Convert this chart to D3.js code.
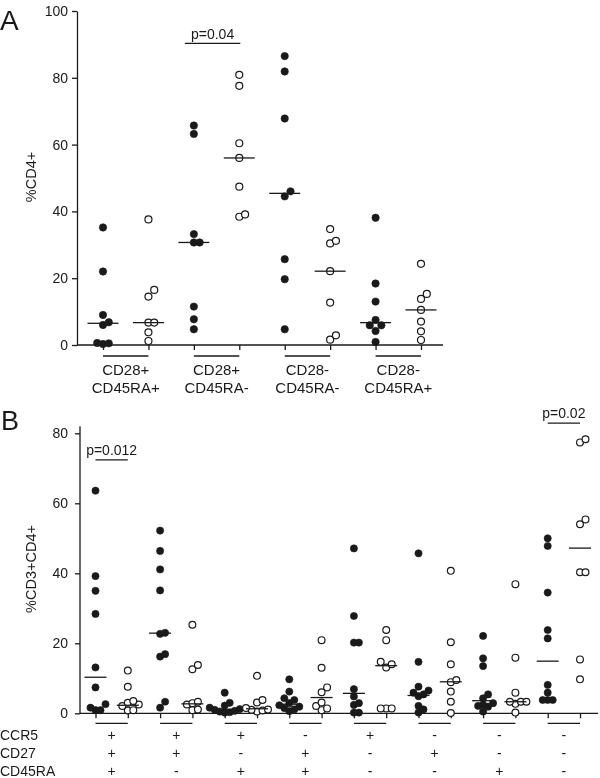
<!DOCTYPE html>
<html>
<head>
<meta charset="utf-8">
<script src="https://cdn.jsdelivr.net/npm/d3@7"></script>
<style>
  html, body { margin: 0; padding: 0; background: #fff; }
  svg { display: block; font-family: "Liberation Sans", Arial, Helvetica, sans-serif; filter: grayscale(1); }
</style>
</head>
<body>
<script>
// ---------- Panel A data ----------
const aCatLine1 = ["CD28+", "CD28+", "CD28-", "CD28-"];
const aCatLine2 = ["CD45RA+", "CD45RA-", "CD45RA-", "CD45RA+"];
const aFilled = [
  [35.2, 22.0, 9.0, 6.8, 6.0, 0.6, 0.3, 0.5],
  [65.7, 63.2, 33.2, 30.7, 30.7, 11.5, 7.7, 4.7],
  [86.5, 81.9, 67.8, 46.0, 44.5, 25.7, 19.7, 4.7],
  [38.1, 18.4, 13.0, 7.5, 5.9, 5.9, 4.2, 0.9]
];
const aOpen = [
  [37.6, 16.5, 14.5, 6.7, 6.7, 3.8, 1.2],
  [80.9, 77.6, 60.4, 56.0, 47.4, 39.1, 38.4],
  [34.7, 31.2, 30.4, 22.1, 12.7, 2.9, 1.6],
  [24.3, 15.3, 13.8, 10.5, 7.0, 4.1, 1.5]
];
const aFilledMedian = [6.5, 30.7, 45.4, 6.7];
const aOpenMedian = [6.7, 56.0, 22.1, 10.5];
const aTicks = [0, 20, 40, 60, 80, 100];
const aPText = "p=0.04";
const aPGroup = 1;
const aPValue = 90.3;

// ---------- Panel B data ----------
const bCCR5 = ["+", "+", "+", "-", "+", "-", "-", "-"];
const bCD27 = ["+", "+", "-", "+", "-", "+", "-", "-"];
const bCD45RA = ["+", "-", "+", "+", "-", "-", "+", "-"];
const bRowNames = ["CCR5", "CD27", "CD45RA"];
const bFilled = [
  [63.6, 39.2, 35.0, 28.4, 13.1, 7.4, 2.6, 1.6, 0.9, 0.9],
  [52.2, 46.4, 41.1, 35.1, 23.0, 22.7, 16.9, 16.2, 3.3, 1.6],
  [5.9, 3.0, 2.2, 1.6, 1.2, 1.0, 0.7, 0.5, 0.3, 0.2],
  [9.7, 6.2, 4.3, 3.8, 2.9, 2.3, 1.9, 1.5, 1.1, 0.6],
  [47.1, 27.8, 20.2, 20.2, 6.9, 4.8, 2.9, 2.4, 0.2, 0.2],
  [45.7, 14.7, 7.6, 6.5, 5.9, 5.4, 4.9, 2.1, 1.1, 0.2],
  [22.1, 15.7, 13.5, 5.4, 4.3, 2.9, 2.5, 2.1, 1.9, 0.5],
  [50.0, 47.8, 34.5, 23.8, 21.4, 8.1, 5.9, 3.8, 3.8, 3.8]
];
const bOpen = [
  [12.2, 7.6, 3.5, 3.0, 2.5, 2.1, 0.9, 0.8],
  [25.3, 13.8, 12.6, 3.3, 2.9, 2.5, 1.1, 0.9],
  [10.7, 3.8, 3.1, 1.5, 1.1, 1.0, 0.8, 0.5],
  [20.9, 13.0, 7.4, 6.0, 3.1, 2.1, 1.4, 0.9],
  [23.8, 20.9, 14.7, 14.0, 13.1, 1.4, 1.4, 1.4],
  [40.7, 20.3, 14.0, 9.5, 8.9, 6.2, 3.3, 0.1],
  [36.9, 15.9, 5.9, 3.3, 3.3, 3.3, 2.7, 0.2],
  [78.3, 77.4, 55.4, 54.0, 40.3, 40.3, 15.4, 9.7]
];
const bFilledMedian = [10.3, 22.9, 1.1, 2.6, 5.7, 5.1, 3.6, 14.9];
const bOpenMedian = [2.3, 2.7, 1.3, 4.5, 13.6, 9.0, 3.3, 47.2];
const bTicks = [0, 20, 40, 60, 80];
const bPTexts = ["p=0.012", "p=0.02"];
const bPGroups = [0, 7];
const bPValues = [72.4, 82.9];

// ---------- drawing ----------
const W = 600, H = 778;
const svg = d3.select("body").append("svg").attr("width", W).attr("height", H);
const INK = "#1a1a1a";

function swarm(values, cx, y, step, minDy) {
  const pts = values.map(v => ({ v, py: y(v) })).sort((a, b) => a.v - b.v);
  const slots = [0, 1, -1, 2, -2, 3, -3];
  const placed = [];
  pts.forEach(p => {
    for (const k of slots) {
      const ok = placed.every(q => !(q.k === k && Math.abs(q.py - p.py) < minDy));
      if (ok) { p.k = k; break; }
    }
    if (p.k === undefined) p.k = 0;
    p.px = cx + p.k * step;
    placed.push(p);
  });
  return pts;
}

function drawColumn(g, values, cx, y, filled, r, step, minDy, median, medHalf) {
  const pts = swarm(values, cx, y, step, minDy);
  g.selectAll(null).data(pts).enter().append("circle")
    .attr("cx", d => d.px).attr("cy", d => d.py).attr("r", r)
    .attr("fill", filled ? INK : "#fff")
    .attr("stroke", INK).attr("stroke-width", filled ? 0.6 : 1.2);
  g.append("line")
    .attr("x1", cx - medHalf).attr("x2", cx + medHalf)
    .attr("y1", y(median)).attr("y2", y(median))
    .attr("stroke", INK).attr("stroke-width", 1.3);
}

// ===== Panel A =====
const gA = svg.append("g");
const yA = d3.scaleLinear().domain([0, 100]).range([345, 11]);
const xA = d3.scalePoint().domain(d3.range(8)).range([103, 421]);
const axisAx = 77;

gA.append("g").attr("transform", `translate(${axisAx},0)`)
  .call(d3.axisLeft(yA).tickValues(aTicks).tickSize(5).tickSizeOuter(0).tickPadding(4))
  .call(g => g.selectAll("path,line").attr("stroke", INK).attr("stroke-width", 1.3))
  .call(g => g.selectAll("text").attr("font-size", 14).attr("fill", INK).attr("font-family", "Liberation Sans, Arial, sans-serif"));

gA.append("g").attr("transform", `translate(0,${yA(0)})`)
  .call(d3.axisBottom(xA).tickSize(5).tickSizeOuter(0).tickFormat(""))
  .call(g => g.select(".domain").remove())
  .call(g => g.selectAll("line").attr("stroke", INK).attr("stroke-width", 1.3));
gA.append("line").attr("x1", axisAx).attr("x2", 443).attr("y1", yA(0)).attr("y2", yA(0))
  .attr("stroke", INK).attr("stroke-width", 1.3);

aFilled.forEach((vals, i) => {
  drawColumn(gA, vals, xA(2 * i), yA, true, 3.7, 5.8, 7.5, aFilledMedian[i], 15.5);
  drawColumn(gA, aOpen[i], xA(2 * i + 1), yA, false, 3.5, 5.8, 7.5, aOpenMedian[i], 15.5);
  const x1 = xA(2 * i), x2 = xA(2 * i + 1);
  gA.append("line").attr("x1", x1).attr("x2", x2).attr("y1", 356).attr("y2", 356)
    .attr("stroke", INK).attr("stroke-width", 1.3);
  gA.append("text").attr("x", (x1 + x2) / 2).attr("y", 375).attr("text-anchor", "middle")
    .attr("font-size", 15).attr("fill", INK).text(aCatLine1[i]);
  gA.append("text").attr("x", (x1 + x2) / 2).attr("y", 393).attr("text-anchor", "middle")
    .attr("font-size", 15).attr("fill", INK).text(aCatLine2[i]);
});

{
  const x1 = xA(2 * aPGroup) - 9, x2 = xA(2 * aPGroup + 1) + 1;
  gA.append("line").attr("x1", x1).attr("x2", x2).attr("y1", yA(aPValue)).attr("y2", yA(aPValue))
    .attr("stroke", INK).attr("stroke-width", 1.3);
  gA.append("text").attr("x", (x1 + x2) / 2).attr("y", yA(aPValue) - 4).attr("text-anchor", "middle")
    .attr("font-size", 14).attr("fill", INK).text(aPText);
}

gA.append("text").attr("transform", "translate(36,177) rotate(-90)").attr("text-anchor", "middle")
  .attr("font-size", 14.5).attr("fill", INK).text("%CD4+");
gA.append("text").attr("x", 0).attr("y", 30).attr("font-size", 28).attr("fill", INK).text("A");

// ===== Panel B =====
const gB = svg.append("g");
const yB = d3.scaleLinear().domain([0, 80]).range([713.3, 433.3]);
const xB = d3.scalePoint().domain(d3.range(16)).range([95.5, 580]);
const axisBx = 80;

gB.append("g").attr("transform", `translate(${axisBx},0)`)
  .call(d3.axisLeft(yB).tickValues(bTicks).tickSize(5).tickSizeOuter(0).tickPadding(7))
  .call(g => g.select(".domain").remove())
  .call(g => g.selectAll("line").attr("stroke", INK).attr("stroke-width", 1.3))
  .call(g => g.selectAll("text").attr("font-size", 14).attr("fill", INK).attr("font-family", "Liberation Sans, Arial, sans-serif"));
gB.append("line").attr("x1", axisBx).attr("x2", axisBx).attr("y1", yB(0)).attr("y2", yB(82))
  .attr("stroke", INK).attr("stroke-width", 1.3);

gB.append("g").attr("transform", `translate(0,${yB(0)})`)
  .call(d3.axisBottom(xB).tickSize(5).tickSizeOuter(0).tickFormat(""))
  .call(g => g.select(".domain").remove())
  .call(g => g.selectAll("line").attr("stroke", INK).attr("stroke-width", 1.3));
gB.append("line").attr("x1", axisBx).attr("x2", 598).attr("y1", yB(0)).attr("y2", yB(0))
  .attr("stroke", INK).attr("stroke-width", 1.3);

const rowBase = [740, 757.5, 775.5];
const rows = [bCCR5, bCD27, bCD45RA];

bFilled.forEach((vals, i) => {
  drawColumn(gB, vals, xB(2 * i), yB, true, 3.6, 5, 6, bFilledMedian[i], 11);
  drawColumn(gB, bOpen[i], xB(2 * i + 1), yB, false, 3.4, 5.5, 6.5, bOpenMedian[i], 11);
  const x1 = xB(2 * i), x2 = xB(2 * i + 1);
  gB.append("line").attr("x1", x1).attr("x2", x2).attr("y1", 723.3).attr("y2", 723.3)
    .attr("stroke", INK).attr("stroke-width", 1.3);
  rows.forEach((r, j) => {
    gB.append("text").attr("x", (x1 + x2) / 2).attr("y", rowBase[j]).attr("text-anchor", "middle")
      .attr("font-size", 14).attr("fill", INK).text(r[i]);
  });
});

bRowNames.forEach((n, j) => {
  gB.append("text").attr("x", 0).attr("y", rowBase[j]).attr("font-size", 14).attr("fill", INK).text(n);
});

bPGroups.forEach((gi, k) => {
  const x1 = xB(2 * gi), x2 = xB(2 * gi + 1);
  const yy = yB(bPValues[k]);
  gB.append("line").attr("x1", x1).attr("x2", x2).attr("y1", yy).attr("y2", yy)
    .attr("stroke", INK).attr("stroke-width", 1.3);
  gB.append("text").attr("x", (x1 + x2) / 2).attr("y", yy - 5).attr("text-anchor", "middle")
    .attr("font-size", 14).attr("fill", INK).text(bPTexts[k]);
});

gB.append("text").attr("transform", "translate(36,569) rotate(-90)").attr("text-anchor", "middle")
  .attr("font-size", 14.5).attr("fill", INK).text("%CD3+CD4+");
gB.append("text").attr("x", 1).attr("y", 430).attr("font-size", 27).attr("fill", INK).text("B");
</script>
</body>
</html>
